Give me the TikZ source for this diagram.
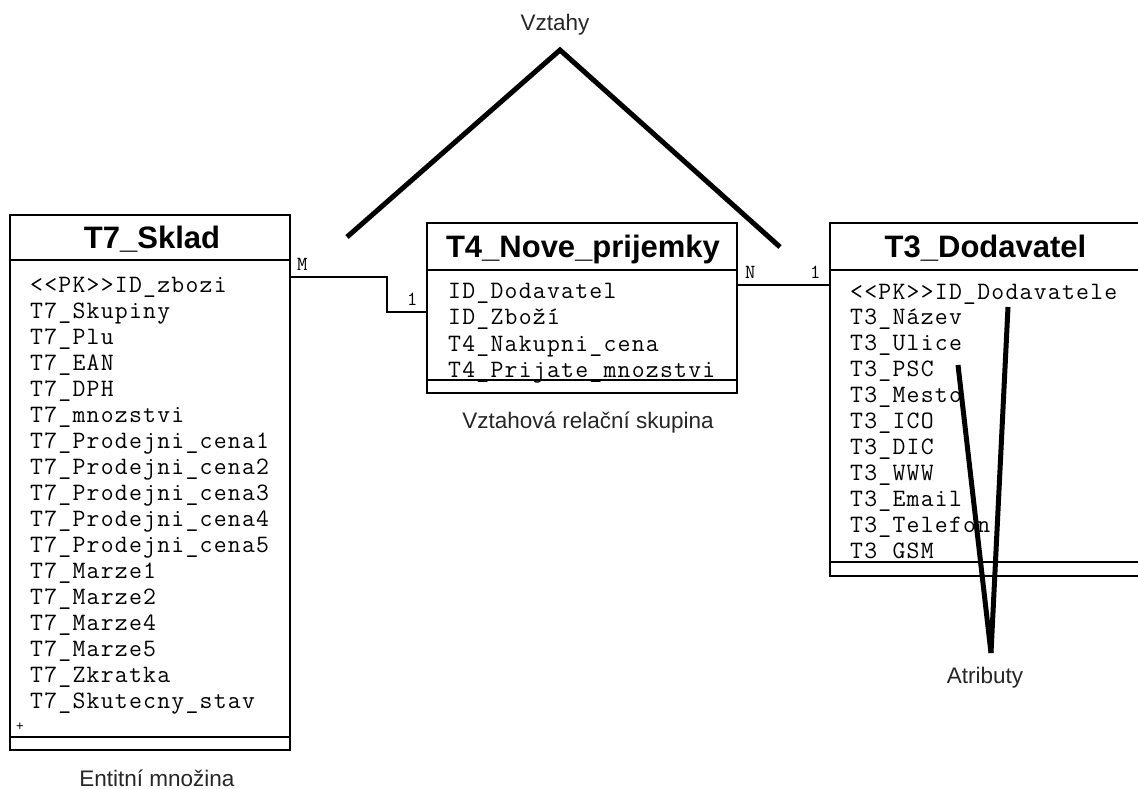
\documentclass[tikz,border=0pt]{standalone}
\usepackage{fontspec}
\setmainfont{Liberation Sans}
\setmonofont{Latin Modern Mono}[LetterSpace=5]
\begin{document}
\begin{tikzpicture}[x=1pt,y=-1pt,
  tbl/.style={draw, rectangle, line width=2.6pt, inner sep=0pt},
  tblline/.style={line width=2.6pt},
  title/.style={font=\bfseries\fontsize{31}{31}\selectfont, anchor=base, inner sep=0pt},
  attr/.style={font=\ttfamily\fontsize{25}{25}\selectfont, anchor=base west, inner sep=0pt},
  card/.style={font=\ttfamily\fontsize{20}{20}\selectfont, anchor=base west, inner sep=0pt},
  caption/.style={font=\fontsize{22.5}{22.5}\selectfont, text=black!85, inner sep=0pt},
  conn/.style={line width=2.4pt},
  pointer/.style={line width=5pt, line join=miter}]
\useasboundingbox (0,0) rectangle (1138,789);
\clip (0,0) rectangle (1138,789);

% ---- entity T7_Sklad ----
\node[tbl, minimum width=280pt, minimum height=535pt] (sklad) at (150,482.5) {};
\node[title] (skladT) at (152,248) {T7\_Sklad};
\draw[tblline] (sklad.west |- 0,260) -- (sklad.east |- 0,260);
\draw[tblline] (sklad.west |- 0,737) -- (sklad.east |- 0,737);
\foreach \t [count=\i] in {{<<PK>>ID\_zbozi}, T7\_Skupiny, T7\_Plu, T7\_EAN, T7\_DPH,
  T7\_mnozstvi, T7\_Prodejni\_cena1, T7\_Prodejni\_cena2, T7\_Prodejni\_cena3,
  T7\_Prodejni\_cena4, T7\_Prodejni\_cena5, T7\_Marze1, T7\_Marze2, T7\_Marze4,
  T7\_Marze5, T7\_Zkratka, T7\_Skutecny\_stav}
  \node[attr] (sa\i) at (30,{292+26.06*(\i-1)}) {\t};
\node[font=\fontsize{13}{13}\selectfont, inner sep=0pt] (splus) at (20,727) {+};
\node[caption] (skladC) at (157,778) {Entitní množina};

% ---- relation T4_Nove_prijemky ----
\node[tbl, minimum width=310pt, minimum height=170pt] (prij) at (582,308) {};
\node[title] (prijT) at (583,257) {T4\_Nove\_prijemky};
\draw[tblline] (prij.west |- 0,270) -- (prij.east |- 0,270);
\draw[tblline] (prij.west |- 0,380) -- (prij.east |- 0,380);
\foreach \t [count=\i] in {ID\_Dodavatel, ID\_Zboží, T4\_Nakupni\_cena, T4\_Prijate\_mnozstvi}
  \node[attr] (pa\i) at (448,{298+26.5*(\i-1)}) {\t};
\node[caption] (prijC) at (588,423) {Vztahová relační skupina};

% ---- entity T3_Dodavatel ----
\node[tbl, minimum width=316pt, minimum height=353pt] (dod) at (988,399.5) {};
\node[title] (dodT) at (985.5,257) {T3\_Dodavatel};
\draw[tblline] (dod.west |- 0,270) -- (dod.east |- 0,270);
\draw[tblline] (dod.west |- 0,562) -- (dod.east |- 0,562);
\foreach \t [count=\i] in {{<<PK>>ID\_Dodavatele}, T3\_Název, T3\_Ulice, T3\_PSC,
  T3\_Mesto, T3\_ICO, T3\_DIC, T3\_WWW, T3\_Email, T3\_Telefon, T3\_GSM}
  \node[attr] (da\i) at (850,{299+25.9*(\i-1)}) {\t};

% ---- connectors with cardinalities ----
\coordinate (mbendA) at (387,277);
\coordinate (mbendB) at (387,312);
\draw[conn] (sklad.east |- mbendA) -- (mbendA) -- (mbendB) -- (prij.west |- mbendB);
\node[card] (cardM) at (297,270) {M};
\node[card] (cardP1) at (407,305) {1};
\coordinate (nrow) at (780,285);
\draw[conn] (prij.east |- nrow) -- (dod.west |- nrow);
\node[card] (cardN) at (745,278) {N};
\node[card] (cardD1) at (810,278) {1};

% ---- pointer annotations ----
\node[caption] (vztahy) at (555,25) {Vztahy};
\coordinate (relApex) at (560,50);
\coordinate (relLeft) at (347,237);
\coordinate (relRight) at (780,247);
\draw[pointer] (relLeft) -- (relApex) -- (relRight);

\node[caption] (atrib) at (985,678) {Atributy};
\coordinate (attrTip) at (991,653);
\coordinate (attrA) at (1008,307);
\coordinate (attrB) at (958,365);
\draw[pointer] (attrA) -- (attrTip);
\draw[pointer] (attrB) -- (attrTip);
\end{tikzpicture}
\end{document}
